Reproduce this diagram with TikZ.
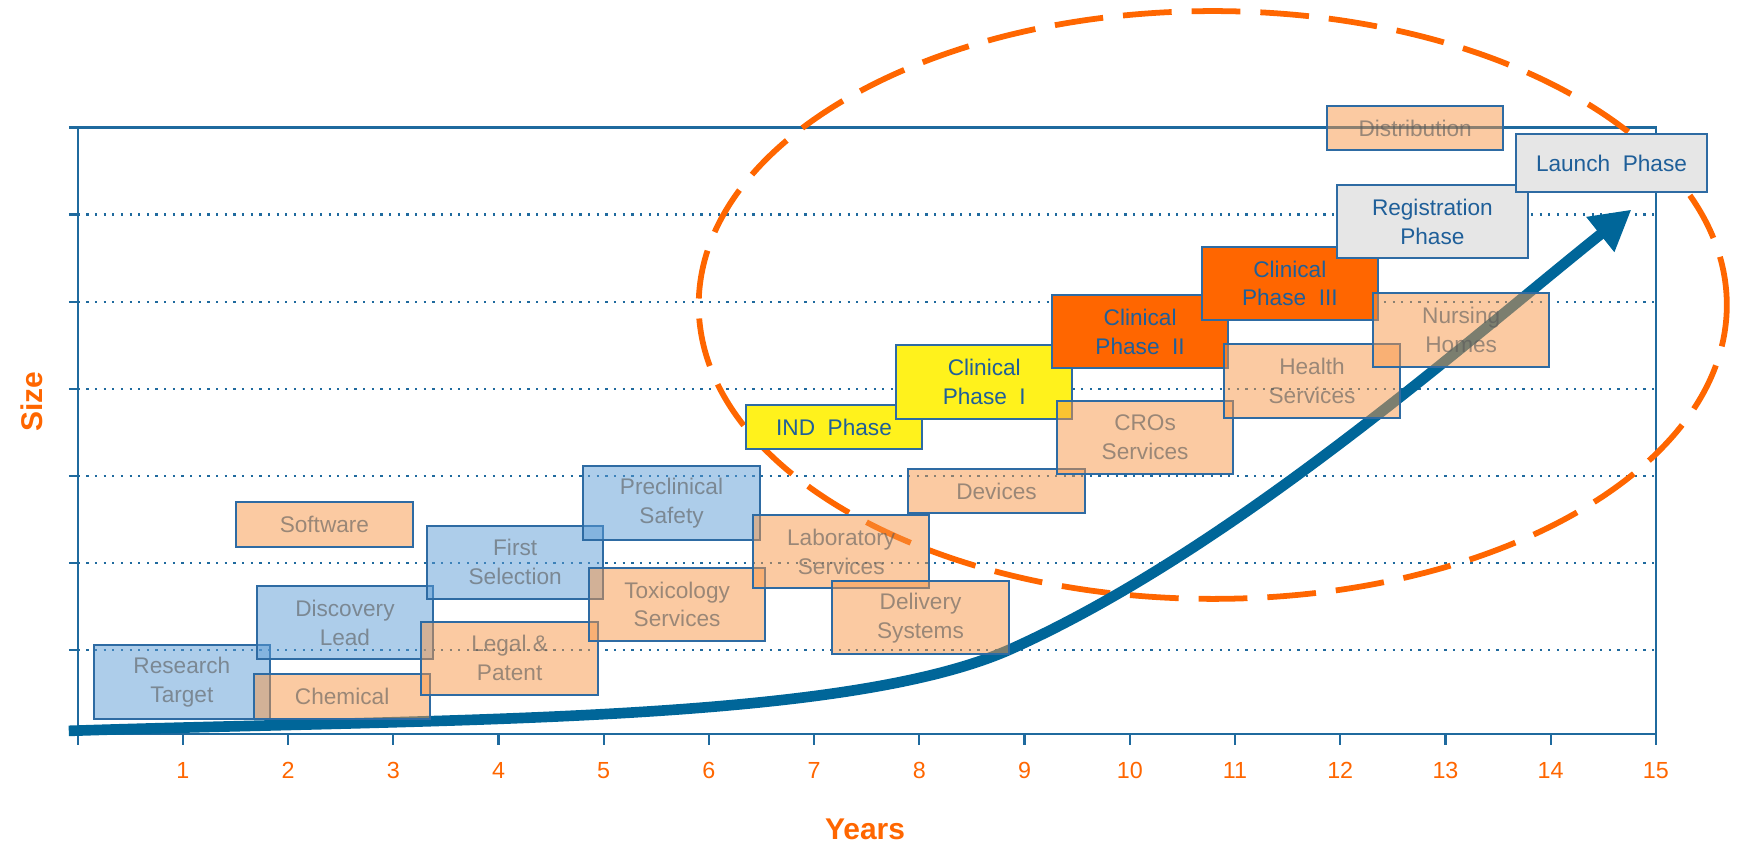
\documentclass[tikz,border=0pt]{standalone}
\usepackage{fontspec}
\setmainfont{Liberation Sans}
\usetikzlibrary{arrows.meta}
\definecolor{axisblue}{HTML}{1F6A9E}
\definecolor{arrowblue}{HTML}{006699}
\definecolor{accorange}{HTML}{FF6600}
\definecolor{boxorange}{HTML}{F79646}
\definecolor{boxblue}{HTML}{5B9BD5}
\definecolor{boxborder}{HTML}{2E6BA3}
\definecolor{graytext}{HTML}{5A5A5A}
\definecolor{phasetext}{HTML}{1F5F99}
\definecolor{phaseyellow}{HTML}{FFF21C}
\definecolor{phasegray}{HTML}{E6E6E6}
\begin{document}
\begin{tikzpicture}[x=0.5pt,y=-0.5pt,
  base/.style={draw=boxborder, line width=0.9pt, inner sep=0pt, align=center,
    font=\fontsize{10.2}{13}\selectfont, minimum width=79.5pt, minimum height=33pt},
  oneline/.style={minimum height=20pt},
  obox/.style={base, fill=boxorange, fill opacity=0.5, text opacity=0.6, text=graytext},
  bbox/.style={base, fill=boxblue, fill opacity=0.5, text opacity=0.6, text=graytext},
  ybox/.style={base, fill=phaseyellow, text=phasetext},
  rbox/.style={base, fill=accorange, text=phasetext},
  gbox/.style={base, fill=phasegray, text=phasetext, minimum width=86pt},
  axisline/.style={axisblue, line width=1pt},
  gridline/.style={axisblue, line width=1pt, dash pattern=on 1pt off 2.9pt},
  ticklabel/.style={text=accorange, font=\fontsize{10.5}{12}\selectfont},
  axistitle/.style={text=accorange, font=\fontsize{13.5}{16}\selectfont\bfseries},
  trend/.style={arrowblue, line width=4.8pt, -{Triangle[length=18pt,width=19pt]}},
  focus/.style={accorange, line width=2.6pt, dash pattern=on 22pt off 9pt}
]
\useasboundingbox (0,0) rectangle (1568,763);

% grid lines
\foreach \y in {193.5,272,350.5,429,507.5,586}
  \draw[gridline] (70,\y) -- (1493,\y);

% frame and axes
\draw[axisline] (70,115) -- (1493,115) -- (1493,662);
\draw[axisline] (70,115) -- (70,662) -- (1493,662);
\foreach \y in {115,193.5,272,350.5,429,507.5,586,662}
  \draw[axisline] (62,\y) -- (70,\y);
\foreach \i in {0,...,15}
  \draw[axisline] ({70+94.87*\i},662) -- ({70+94.87*\i},672);
\foreach \i in {1,...,15}
  \node[ticklabel] (t\i) at ({70+94.87*\i},695) {\i};
\node[axistitle] (years) at (780,748) {Years};
\node[axistitle, rotate=90] (size) at (28.5,362) {Size};

% dashed focus ellipse
\draw[focus] (1093.5,275) ellipse [x radius=231.75pt, y radius=132.5pt];

% growth arrow
\coordinate (a0) at (62,659);
\coordinate (a1) at (912,585);
\coordinate (a2) at (1471,189);
\draw[trend] (a0) .. controls (400,648) and (762,652.5) .. (a1)
  .. controls (1112,495) and (1321,309) .. (a2);

% early boxes
\node[bbox] (rt) at (164,615) {Research\\Target};
\node[obox, oneline] (chem) at (308.5,628) {Chemical};
\node[bbox] (dl) at (311,561.5) {Discovery\\Lead};
\node[obox, oneline] (sw) at (292.5,473) {Software};
\node[bbox] (fs) at (464.5,507) {First\\Selection};
\node[obox] (lp) at (459.5,593.5) {Legal \&\\Patent};
\node[bbox] (ps) at (605.5,453.5) {Preclinical\\Safety};
\node[obox] (ts) at (610.5,545) {Toxicology\\Services};
\node[obox] (ls) at (758.5,497.5) {Laboratory\\Services};
\node[obox] (ds) at (830,557) {Delivery\\Systems};

% phase boxes
\node[ybox, oneline] (ind) at (752,385) {IND\ \ Phase};
\node[ybox] (cp1) at (887.5,344.5) {Clinical\\Phase\ \ I};
\node[rbox] (cp2) at (1028,299) {Clinical\\Phase\ \ II};
\node[rbox] (cp3) at (1163,255.5) {Clinical\\Phase\ \ III};
\node[gbox] (reg) at (1291.5,200) {Registration\\Phase};
\node[gbox, minimum height=26pt] (launch) at (1453,147) {Launch\ \ Phase};

% service boxes
\node[obox, oneline] (dev) at (898.5,443) {Devices};
\node[obox] (cro) at (1032.5,394.5) {CROs\\Services};
\node[obox] (hs) at (1183,343.5) {Health\\Services};
\node[obox] (nh) at (1317.5,297.5) {Nursing\\Homes};
\node[obox, oneline] (dist) at (1276,115.5) {Distribution};
\end{tikzpicture}
\end{document}
